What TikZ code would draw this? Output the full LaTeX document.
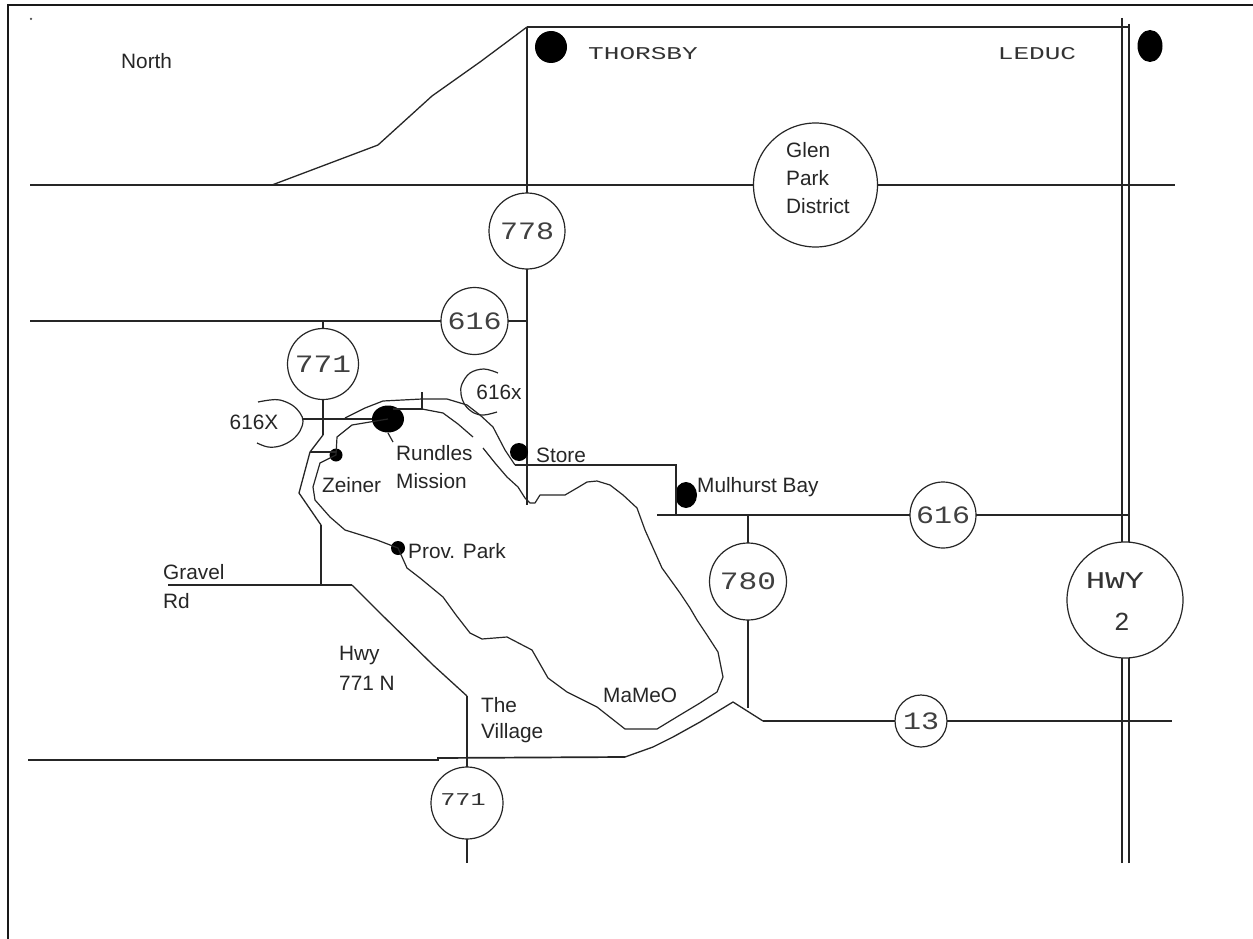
\documentclass[tikz,border=0pt]{standalone}
\usepackage{fontspec}
\usepackage{graphicx}
\setmainfont{Liberation Sans}
\newfontfamily\monof{Liberation Mono}
\newcommand{\wid}[2]{\scalebox{#1}[1]{#2}}
\usetikzlibrary{shapes.geometric}
\tikzset{
  road/.style={line width=1.7pt,draw=black!85},
  thin road/.style={line width=1.3pt,draw=black!85,line join=round},
  shore/.style={line width=1.2pt,draw=black!85,line join=round},
  shield/.style={circle,draw=black!85,line width=1.2pt,inner sep=0pt,outer sep=0pt,fill=white,font=\monof\fontsize{25}{28}\selectfont,text=black!75},
  town/.style={fill=black,draw=none,ellipse,inner sep=0pt,outer sep=0pt},
  lab/.style={anchor=west,inner sep=0pt,font=\fontsize{20.8}{24}\selectfont,text=black!85},
  clab/.style={inner sep=0pt,font=\fontsize{20.8}{24}\selectfont,text=black!85},
  wide/.style={inner sep=0pt,font=\monof\fontsize{18}{20}\selectfont,text=black!80}
}
\begin{document}
\begin{tikzpicture}[x=1pt,y=-1pt]
\useasboundingbox (0,0) rectangle (1253,939);
\fill[white] (0,0) rectangle (1253,939);
% frame
\coordinate (fbl) at (8,939); \coordinate (ftl) at (8,5); \coordinate (ftr) at (1253,5);
\draw[line width=1.9pt,black!90] (fbl) -- (ftl) -- (ftr);
\node[fill=black!70,circle,inner sep=0pt,minimum size=2.5pt] (speck) at (31,19) {};
% shields
\node[shield,minimum size=76pt] (s778) at (527,231) {\wid{1.2}{778}};
\node[shield,minimum size=124pt] (glen) at (815.5,185) {};
\node[shield,minimum size=67pt] (s616a) at (474.5,321) {\wid{1.2}{616}};
\node[shield,minimum size=71pt] (s771a) at (323,364) {\wid{1.25}{771}};
\node[shield,minimum size=66pt] (s616b) at (943,515) {\wid{1.2}{616}};
\node[shield,minimum size=77pt] (s780) at (748,581.5) {\wid{1.25}{780}};
\node[shield,minimum size=52pt] (s13) at (921,721) {\wid{1.2}{13}};
\node[shield,minimum size=116pt] (hwy) at (1125,600) {};
\node[shield,minimum size=72pt] (s771b) at (467,803) {};
% junctions
\coordinate (a0) at (272,185); \coordinate (a1) at (378,145); \coordinate (a2) at (432,96); \coordinate (a3) at (480,62);
\coordinate (nw) at (527,27); \coordinate (ne) at (1129,27);
\coordinate (n1) at (30,185); \coordinate (n3) at (1175,185);
\coordinate (w1) at (30,321); \coordinate (w2) at (323,321); \coordinate (w3) at (527,321);
\coordinate (v778b) at (527,505);
\coordinate (d1t) at (1122,18); \coordinate (d2t) at (1129,24);
\coordinate (d1b) at (1122,863); \coordinate (d2b) at (1129,863);
% north roads
\draw[thin road] (a0) -- (a1) -- (a2) -- (a3) -- (nw);
\draw[road] (n1) -- (glen.west);
\draw[road] (glen.east) -- (n3);
\draw[road] (nw) -- (ne);
\draw[road] (nw) -- (s778.north);
\draw[road] (s778.south) -- (v778b);
\draw[road] (w1) -- (s616a.west);
\draw[road] (s616a.east) -- (w3);
% highway 2
\draw[road] (d1t) -- (d1t|-hwy.north);
\draw[road] (d2t) -- (d2t|-hwy.north);
\draw[road] (d1b) -- (d1b|-hwy.south);
\draw[road] (d2b) -- (d2b|-hwy.south);
% 771 north and gravel
\coordinate (j2) at (323,435); \coordinate (j3) at (310,452);
\coordinate (j4) at (299,493); \coordinate (j5) at (321,525); \coordinate (j6) at (321,585);
\coordinate (g0) at (168,585); \coordinate (g1) at (352,585); \coordinate (g2) at (380,613); \coordinate (g3) at (433,665); \coordinate (g4) at (467,696);
\coordinate (g6) at (467,863);
\draw[road] (w2) -- (s771a.north);
\draw[road] (s771a.south) -- (j2);
\draw[thin road] (j2) -- (j3) -- (j4) -- (j5);
\draw[road] (j5) -- (j6);
\draw[road] (g0) -- (g1);
\draw[thin road] (g1) -- (g2) -- (g3) -- (g4);
\draw[road] (g4) -- (s771b.north);
\draw[road] (s771b.south) -- (g6);
% towns
\node[town,minimum width=32pt,minimum height=32pt] (thorsby) at (551,47) {};
\node[town,minimum width=25pt,minimum height=32pt] (leduc) at (1150,46) {};
\node[town,minimum width=32pt,minimum height=27pt] (rundles) at (388,419) {};
\node[town,minimum width=13pt,minimum height=13pt] (zeiner) at (336,455) {};
\node[town,minimum width=14pt,minimum height=14pt] (prov) at (398,548) {};
\node[town,minimum width=18pt,minimum height=18pt] (store) at (519,452) {};
\node[town,minimum width=22pt,minimum height=26pt] (mulhurst) at (686,495) {};
% 616X spur and arcs
\coordinate (x0) at (303,419);
\draw[road] (x0) -- (x0-|rundles.west);
\draw[shore] plot[smooth,tension=.6] coordinates {(258,402) (270,400) (280,400) (292,405) (300,413) (303,421) (300,431) (292,440) (280,446) (268,447) (257,443)};
\draw[shore] plot[smooth,tension=.6] coordinates {(498,373) (484,369) (470,373) (462,384) (461,394) (465,405) (474,413) (484,415) (497,412)};
% Zeiner spur
\draw[road] (j3) -- (j3-|zeiner.center);
% upper shore
\draw[shore] (345,418) -- (365,408) -- (383,401) -- (422,399) -- (447,399) -- (467,405) -- (480,415) -- (493,427) -- (505,450) -- (515,465);
\coordinate (t1) at (393,409); \coordinate (t2) at (422,409); \coordinate (t3) at (422,392);
\draw[road] (t1) -- (t2) -- (t3);
\draw[shore] (t2) -- (443,413) -- (458,424) -- (473,437);
\draw[shore] (483,448) -- (495,463) -- (507,477) -- (518,487) -- (525,498) -- (530,503) -- (535,503) -- (540,495) -- (565,495) -- (577,488) -- (587,482) -- (597,481) -- (610,485) -- (623,495) -- (637,508) -- (645,530) -- (662,568) -- (680,593) -- (690,608) -- (697,620) -- (707,635) -- (718,652) -- (723,677) -- (717,692) -- (700,703) -- (680,715) -- (657,729) -- (625,729) -- (597,707) -- (567,692) -- (548,678) -- (532,650) -- (507,637) -- (482,639) -- (470,633) -- (456,615) -- (443,597) -- (420,578) -- (407,568) -- (prov.center) -- (377,540) -- (345,530) -- (330,517) -- (315,500) -- (313,487) -- (320,463) -- (zeiner.center) -- (337,437) -- (352,425) -- (rundles.center);
\coordinate (r1) at (388,433); \coordinate (r2) at (393,442);
\draw[shore] (r1) -- (r2);
% store road
\coordinate (st0) at (515,465); \coordinate (st1) at (676,465); \coordinate (st2) at (676,515);
\draw[road] (st0) -- (st1) -- (st2);
% 616 east
\coordinate (e0) at (657,515); \coordinate (e1) at (1129,515); \coordinate (e780) at (748,515);
\draw[road] (e0) -- (s616b.west);
\draw[road] (s616b.east) -- (e1);
\draw[road] (e780) -- (s780.north);
\coordinate (b780) at (748,708);
\draw[road] (s780.south) -- (b780);
% bottom road
\coordinate (b0) at (28,760); \coordinate (b1) at (438,760); \coordinate (b2) at (438,758); \coordinate (b3) at (625,757);
\coordinate (b4) at (653,747); \coordinate (b5) at (673,737); \coordinate (b6) at (700,722); \coordinate (b7) at (733,702); \coordinate (b8) at (763,721);
\coordinate (b9) at (1172,721);
\draw[road] (b0) -- (b1) -- (b2) -- (b3);
\draw[thin road] (b3) -- (b4) -- (b5) -- (b6) -- (b7) -- (b8);
\draw[road] (b8) -- (s13.west);
\draw[road] (s13.east) -- (b9);
% labels
\node[lab] (lnorth) at (121,61) {North};
\node[wide] (lth) at (643,54) {\wid{1.45}{THORSBY}};
\node[wide] (lle) at (1037,54) {\wid{1.45}{LEDUC}};
\node[lab] (lglen) at (786,150) {Glen};
\node[lab] (lpark) at (786,178) {Park};
\node[lab] (ldist) at (786,206) {District};
\node[clab] (l616X) at (254,422) {616X};
\node[clab] (l616x) at (499,392) {616x};
\node[lab] (lrun) at (396,453) {Rundles};
\node[lab] (lmis) at (396,481) {Mission};
\node[lab] (lzei) at (322,485) {Zeiner};
\node[lab] (lprov) at (408,551) {Prov. Park};
\node[lab] (lsto) at (536,455) {Store};
\node[lab] (lmul) at (697,487) {Mulhurst Bay};
\node[lab] (lgra) at (163,572) {Gravel};
\node[lab] (lrd) at (163,601) {Rd};
\node[lab] (lhwy) at (339,655) {Hwy};
\node[lab] (l771n) at (339,683) {771 N};
\node[lab] (lthe) at (481,705) {The};
\node[lab] (lvil) at (481,733) {Village};
\node[lab] (lmam) at (603,695) {MaMeO};
\node[wide,font=\monof\fontsize{24}{26}\selectfont] (lhw) at (1115,581) {\wid{1.35}{HWY}};
\node[wide,font=\monof\fontsize{26}{28}\selectfont] (l2) at (1122,622) {2};
\node[wide] (l771b) at (463,800) {\wid{1.4}{771}};
\end{tikzpicture}
\end{document}
